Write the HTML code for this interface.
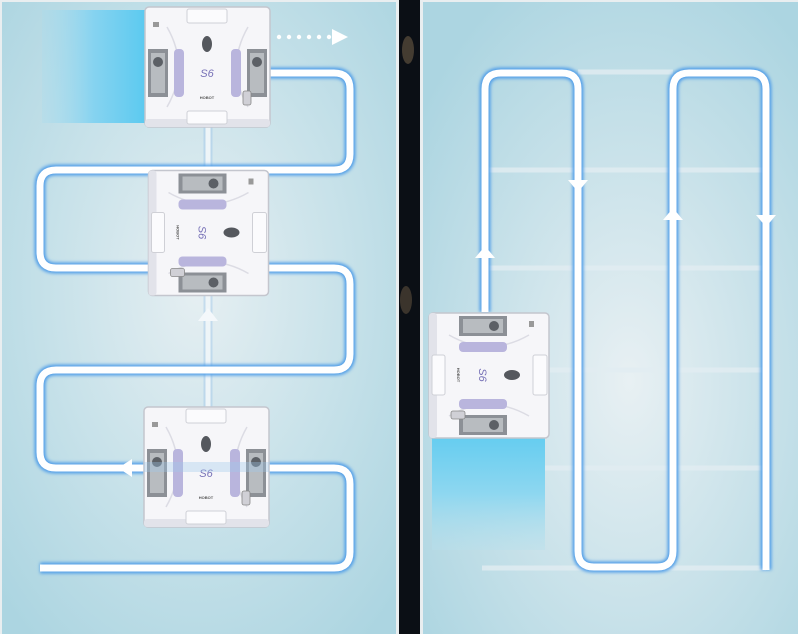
<!DOCTYPE html>
<html><head><meta charset="utf-8"><style>
html,body{margin:0;padding:0;background:#fff}
svg{display:block}
</style></head><body>
<svg width="798" height="634" viewBox="0 0 798 634" xmlns="http://www.w3.org/2000/svg">
<defs>
<radialGradient id="bgL" cx="0.5" cy="0.45" r="0.7">
<stop offset="0" stop-color="#e6eff2"/><stop offset="0.55" stop-color="#c6e1e9"/><stop offset="1" stop-color="#acd5e1"/></radialGradient>
<radialGradient id="bgR" cx="0.55" cy="0.6" r="0.7">
<stop offset="0" stop-color="#e8f0f3"/><stop offset="0.55" stop-color="#c7e1e9"/><stop offset="1" stop-color="#acd5e1"/></radialGradient>
<linearGradient id="trailL" x1="0" y1="0" x2="1" y2="0">
<stop offset="0" stop-color="#a8dcee" stop-opacity="0.3"/><stop offset="0.5" stop-color="#86d3f0"/><stop offset="1" stop-color="#5ccaf0"/></linearGradient>
<linearGradient id="trailR" x1="0" y1="0" x2="0" y2="1">
<stop offset="0" stop-color="#66cdf0"/><stop offset="0.5" stop-color="#8ed7f0"/><stop offset="1" stop-color="#b8e0ec" stop-opacity="0.4"/></linearGradient>
<filter id="glow" x="-10%" y="-10%" width="120%" height="120%"><feGaussianBlur stdDeviation="1.5"/></filter>
<g id="robot">
<rect x="0" y="0" width="125" height="120" rx="4" fill="#f6f6f9" stroke="#c4c6ce" stroke-width="1.5"/>
<rect x="0" y="112" width="125" height="8" rx="3" fill="#e2e3ea"/>
<rect x="42" y="2" width="40" height="14" rx="2" fill="#fbfbfd" stroke="#cfd0d6"/>
<rect x="42" y="104" width="40" height="13" rx="2" fill="#fbfbfd" stroke="#cfd0d6"/>
<path d="M22 20 Q45 60 22 100" fill="none" stroke="#dcdce4" stroke-width="1.5"/>
<path d="M103 20 Q80 60 103 100" fill="none" stroke="#dcdce4" stroke-width="1.5"/>
<rect x="3" y="42" width="20" height="48" fill="#8c9096"/>
<rect x="6" y="46" width="14" height="40" fill="#b8bcc0"/>
<circle cx="13" cy="55" r="5" fill="#5c6066"/>
<rect x="102" y="42" width="20" height="48" fill="#8c9096"/>
<rect x="105" y="46" width="14" height="40" fill="#b8bcc0"/>
<circle cx="112" cy="55" r="5" fill="#5c6066"/>
<rect x="29" y="42" width="10" height="48" rx="4" fill="#b9b5dd"/>
<rect x="86" y="42" width="10" height="48" rx="4" fill="#b9b5dd"/>
<ellipse cx="62" cy="37" rx="5" ry="8" fill="#55585e"/>
<text x="62" y="70" text-anchor="middle" font-family="Liberation Sans, sans-serif" font-style="italic" font-size="11" fill="#7670b6">S6</text>
<text x="62" y="92" text-anchor="middle" font-family="Liberation Sans, sans-serif" font-size="4" font-weight="bold" fill="#555">HOBOT</text>
<rect x="8" y="15" width="6" height="5" fill="#999"/>
<rect x="98" y="84" width="8" height="14" rx="2" fill="#d0d0d6" stroke="#888" stroke-width="0.8"/>
</g>
</defs>
<rect x="0" y="0" width="798" height="634" fill="#e9eef0"/>
<rect x="2" y="2" width="394" height="632" fill="url(#bgL)"/>
<rect x="399" y="0" width="21" height="634" fill="#0b0f15"/>
<ellipse cx="408" cy="50" rx="6" ry="14" fill="#6b5a44" opacity="0.6"/>
<ellipse cx="406" cy="300" rx="6" ry="14" fill="#6b5a44" opacity="0.5"/>
<rect x="423" y="2" width="375" height="632" fill="url(#bgR)"/>

<rect x="42" y="10" width="103" height="113" fill="url(#trailL)"/>
<line x1="208" y1="127" x2="208" y2="470" stroke="#8cbbe8" stroke-width="9" opacity="0.35"/>
<line x1="208" y1="127" x2="208" y2="470" stroke="#eef5f8" stroke-width="5"/>
<path d="M198 321 L208 308 L218 321 Z" fill="#f4f8fb"/>
<g fill="none" stroke-linejoin="round">
<path d="M268 73 H334 Q350 73 350 89 V154 Q350 170 334 170 H56 Q40 170 40 186 V252 Q40 268 56 268 H334 Q350 268 350 284 V354 Q350 370 334 370 H56 Q40 370 40 386 V452 Q40 468 56 468 H334 Q350 468 350 484 V552 Q350 568 334 568 H40" stroke="#4f9de8" stroke-width="11" filter="url(#glow)"/>
<path d="M268 73 H334 Q350 73 350 89 V154 Q350 170 334 170 H56 Q40 170 40 186 V252 Q40 268 56 268 H334 Q350 268 350 284 V354 Q350 370 334 370 H56 Q40 370 40 386 V452 Q40 468 56 468 H334 Q350 468 350 484 V552 Q350 568 334 568 H40" stroke="#ffffff" stroke-width="7"/>
</g>
<path d="M118 468 L132 459 L132 477 Z" fill="#fff"/>
<g fill="#fff"><circle cx="279" cy="37" r="2.2"/><circle cx="289" cy="37" r="2.2"/><circle cx="299" cy="37" r="2.2"/><circle cx="309" cy="37" r="2.2"/><circle cx="319" cy="37" r="2.2"/><circle cx="329" cy="37" r="2.2"/><path d="M332 29 L348 37 L332 45 Z"/></g>
<use href="#robot" transform="translate(145,7)"/>
<use href="#robot" transform="translate(146,170) rotate(90 61 63) translate(-1.5 1.5)"/>
<use href="#robot" transform="translate(144,407)"/>
<rect x="144" y="462" width="125" height="10" fill="#9ec9ec" opacity="0.35"/>

<g stroke="#e2edf2" stroke-width="5" opacity="0.8">
<line x1="578" y1="72" x2="673" y2="72"/>
<line x1="485" y1="170" x2="766" y2="170"/>
<line x1="485" y1="268" x2="766" y2="268"/>
<line x1="485" y1="370" x2="766" y2="370"/>
<line x1="485" y1="468" x2="766" y2="468"/>
<line x1="482" y1="568" x2="766" y2="568"/>
<line x1="487" y1="430" x2="487" y2="468"/>
</g>
<rect x="432" y="438" width="113" height="112" fill="url(#trailR)"/>
<g fill="none" stroke-linejoin="round">
<path d="M485 312 V89 Q485 73 501 73 H562 Q578 73 578 89 V551 Q578 567 594 567 H657 Q673 567 673 551 V89 Q673 73 689 73 H750 Q766 73 766 89 V570" stroke="#4f9de8" stroke-width="11" filter="url(#glow)"/>
<path d="M485 312 V89 Q485 73 501 73 H562 Q578 73 578 89 V551 Q578 567 594 567 H657 Q673 567 673 551 V89 Q673 73 689 73 H750 Q766 73 766 89 V570" stroke="#ffffff" stroke-width="7"/>
</g>
<g fill="#fff">
<path d="M475 258 L485 246 L495 258 Z"/>
<path d="M568 180 L578 192 L588 180 Z"/>
<path d="M663 220 L673 208 L683 220 Z"/>
<path d="M756 215 L766 227 L776 215 Z"/>
</g>
<use href="#robot" transform="translate(428,314) rotate(90 61 62) translate(-2 2)"/>
</svg>
</body></html>
